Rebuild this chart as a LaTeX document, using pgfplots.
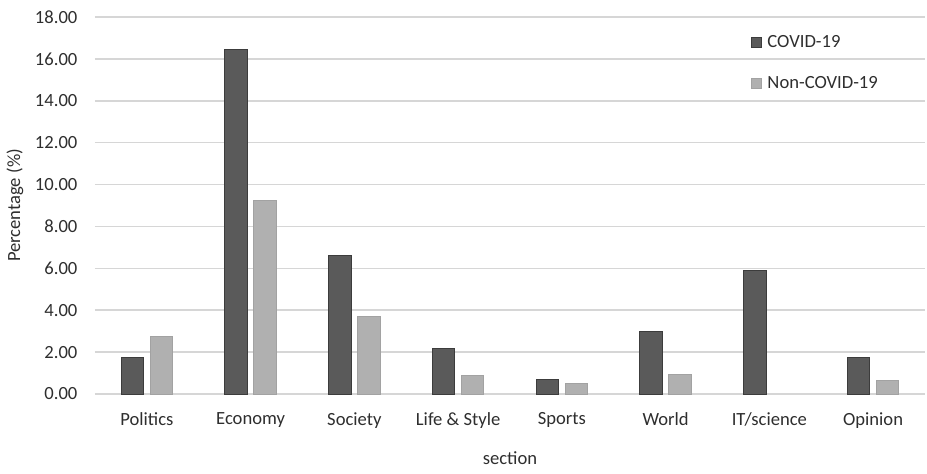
\documentclass[border=0pt]{standalone}
\usepackage{fontspec}
\setmainfont{Carlito}
\usepackage{pgfplots}
\pgfplotsset{compat=1.18}
\definecolor{darkbar}{HTML}{5A5A5A}
\definecolor{darkedge}{HTML}{3C3C3C}
\definecolor{lightbar}{HTML}{B0B0B0}
\definecolor{lightedge}{HTML}{A2A2A2}
\definecolor{gridc}{HTML}{D6D6D6}
\definecolor{txt}{HTML}{2E2E2E}
\begin{document}
\fontsize{9.3pt}{11pt}\selectfont
\begin{tikzpicture}
\path[use as bounding box] (-47.5pt,-39.5pt) rectangle (416pt,197pt);
\begin{axis}[
  scale only axis,
  width=415pt, height=188.5pt,
  xmin=-0.5, xmax=7.5, ymin=0, ymax=18,
  ytick={0,2,...,18},
  xtick={0,...,7},
  xticklabels={Politics,Economy,Society,Life \& Style,Sports,World,IT/science,Opinion},
  ymajorgrids, grid style={gridc, line width=0.75pt},
  axis line style={draw=none},
  major tick length=0pt,
  tick label style={font=\fontsize{9.3pt}{11pt}\selectfont, text=txt},
  /pgf/number format/.cd, fixed, fixed zerofill, precision=2, assume math mode=true,
  /pgfplots/.cd,
  yticklabel style={xshift=-5.5pt},
  xticklabel style={yshift=-6pt},
  xlabel={section},
  ylabel={Percentage (\%)},
  label style={font=\fontsize{9.3pt}{11pt}\selectfont, text=txt},
  xlabel style={at={(axis description cs:0.5,0)}, anchor=center, yshift=-32pt},
  ylabel style={at={(axis description cs:-0.0964,0.5)}, anchor=center},
  ybar, bar width=11.25pt,
  legend style={draw=none, fill=none, at={(axis description cs:0.79,0.878)}, anchor=west,
    font=\fontsize{9.3pt}{11pt}\selectfont, text=txt, row sep=9pt, inner sep=0pt,
    /tikz/every odd column/.style={column sep=1pt}},
  legend cell align=left,
  legend image code/.code={\draw[#1, line width=0.4pt] (0pt,-2.4pt) rectangle (4.8pt,2.4pt);},
]
\addplot[fill=darkbar, draw=darkedge, line width=0.5pt, bar shift=-7.25pt] coordinates {
(0,1.72) (1,16.46) (2,6.61) (3,2.15) (4,0.70) (5,2.99) (6,5.89) (7,1.72)};
\addplot[fill=lightbar, draw=lightedge, line width=0.5pt, bar shift=7.25pt] coordinates {
(0,2.74) (1,9.23) (2,3.71) (3,0.88) (4,0.48) (5,0.91) (7,0.65)};
\legend{COVID-19,Non-COVID-19}
\end{axis}
\end{tikzpicture}
\end{document}
